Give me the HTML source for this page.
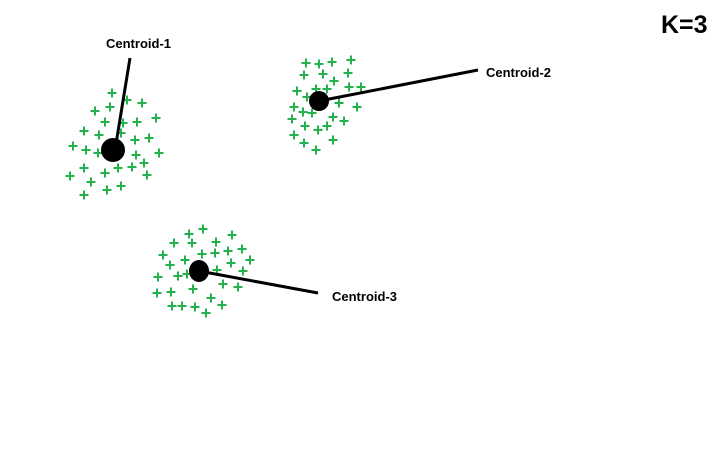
<!DOCTYPE html>
<html><head><meta charset="utf-8"><style>
html,body{margin:0;padding:0;background:#fff;}
svg{display:block;}
text{font-family:"Liberation Sans",sans-serif;font-weight:bold;fill:#000;}
</style></head><body>
<svg id="chart" width="723" height="456">
<g id="pts"></g>
<g id="cents"></g>
<text x="661" y="33" font-size="25">K=3</text>
</svg>
<script>
const cluster1X=[112,127,142,95,110,105,123,137,156,84,99,121,135,149,73,86,98,136,159,144,84,105,118,132,147,70,91,121,107,84];
const cluster1Y=[93,100,103,111,107,122,123,122,118,131,135,133,140,138,146,150,153,155,153,163,168,173,168,167,175,176,182,186,190,195];
const cluster2X=[306,319,332,351,304,323,334,348,297,307,316,327,349,361,294,303,312,339,357,292,333,344,305,318,327,294,304,333,316];
const cluster2Y=[63,64,62,60,75,74,81,73,91,97,89,89,87,87,107,112,113,103,107,119,117,121,126,130,126,135,143,140,150];
const cluster3X=[203,189,232,174,192,216,163,202,215,228,242,185,170,231,250,158,178,187,217,243,223,238,157,171,193,211,172,182,195,222,206];
const cluster3Y=[229,234,235,243,243,242,255,254,253,251,249,260,265,263,260,277,276,274,270,271,284,287,293,292,289,298,306,306,307,305,313];
const centroidNames=["Centroid-1","Centroid-2","Centroid-3"];
const centroidX=[113,319,199];
const centroidY=[150,101,271];
const labelX=[106,486,332];
const labelY=[48,77,301];
const ns="http://www.w3.org/2000/svg";
const pts=document.getElementById('pts');
const cents=document.getElementById('cents');
const clusters=[[cluster1X,cluster1Y],[cluster2X,cluster2Y],[cluster3X,cluster3Y]];
clusters.forEach((c,ci)=>{
  c[0].forEach((x,i)=>{
    const y=c[1][i];
    const p=document.createElementNS(ns,'path');
    p.setAttribute('d',`M${x-4.5} ${y}H${x+4.5}M${x} ${y-4.5}V${y+4.5}`);
    p.setAttribute('stroke','#22b14c');
    p.setAttribute('stroke-width','2');
    
    
    pts.appendChild(p);
  });
});
// leader lines: from centroid toward label
const lineEnds=[[130,58],[478,70],[318,293]];
centroidX.forEach((cx,i)=>{
  const cy=centroidY[i];
  const l=document.createElementNS(ns,'line');
  l.setAttribute('x1',cx+(i===0?2:0));l.setAttribute('y1',cy);
  l.setAttribute('x2',lineEnds[i][0]);l.setAttribute('y2',lineEnds[i][1]);
  l.setAttribute('stroke','#000');l.setAttribute('stroke-width','3');
  
  
  cents.appendChild(l);
  const e=document.createElementNS(ns,'ellipse');
  e.setAttribute('cx',cx);e.setAttribute('cy',cy);
  e.setAttribute('rx',i===0?12:10);e.setAttribute('ry',i===0?12:(i===2?11:10));
  e.setAttribute('fill','#000');
  
  
  cents.appendChild(e);
  const t=document.createElementNS(ns,'text');
  t.setAttribute('x',labelX[i]);t.setAttribute('y',labelY[i]);
  t.setAttribute('font-size','13');
  t.textContent=centroidNames[i];
  
  
  cents.appendChild(t);
});
</script>
</body></html>
